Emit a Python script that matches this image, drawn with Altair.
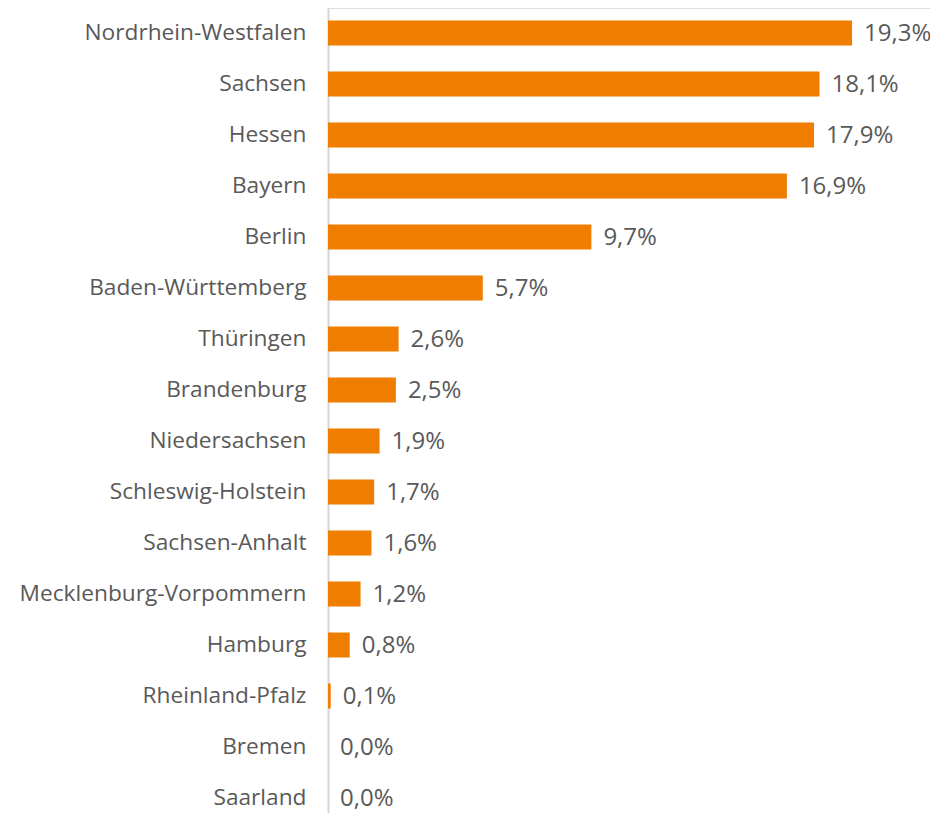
import altair as alt
import pandas as pd

states = ["Nordrhein-Westfalen", "Sachsen", "Hessen", "Bayern", "Berlin",
          "Baden-Württemberg", "Thüringen", "Brandenburg", "Niedersachsen",
          "Schleswig-Holstein", "Sachsen-Anhalt", "Mecklenburg-Vorpommern",
          "Hamburg", "Rheinland-Pfalz", "Bremen", "Saarland"]
values = [19.3, 18.1, 17.9, 16.9, 9.7, 5.7, 2.6, 2.5, 1.9, 1.7, 1.6, 1.2,
          0.8, 0.1, 0.0, 0.0]

df = pd.DataFrame({"state": states, "value": values})

FONT = "Open Sans"
GRAY = "#595959"

y_enc = alt.Y("state:N", sort=states, title=None,
              scale=alt.Scale(paddingInner=0.51, paddingOuter=0.147, align=0.833),
              axis=alt.Axis(ticks=False, labelPadding=22, labelFontSize=22.7,
                            labelFont=FONT, labelColor=GRAY,
                            domainColor="#d6d6d6", domainWidth=2,
                            labelLimit=400))
x_enc = alt.X("value:Q", title=None,
              scale=alt.Scale(domain=[0, 22.17], nice=False, zero=True),
              axis=None)

bars = alt.Chart(df).mark_bar(color="#EF7D00").encode(x=x_enc, y=y_enc)

labels = alt.Chart(df).transform_calculate(
    lab="replace(format(datum.value, '.1f'), '.', ',') + '%'"
).mark_text(align="left", baseline="middle", dx=12, dy=1, fontSize=24,
            font=FONT, color=GRAY).encode(x=x_enc, y=y_enc, text="lab:N")

chart = alt.layer(bars, labels).properties(
    width=602, height=805,
    autosize=alt.AutoSizeParams(type="none"),
    padding={"left": 320, "top": 0, "right": 0, "bottom": 0},
).configure_view(stroke=None).configure(background="white")

chart.save("out.html", embed_options={"renderer": "svg", "actions": False})
